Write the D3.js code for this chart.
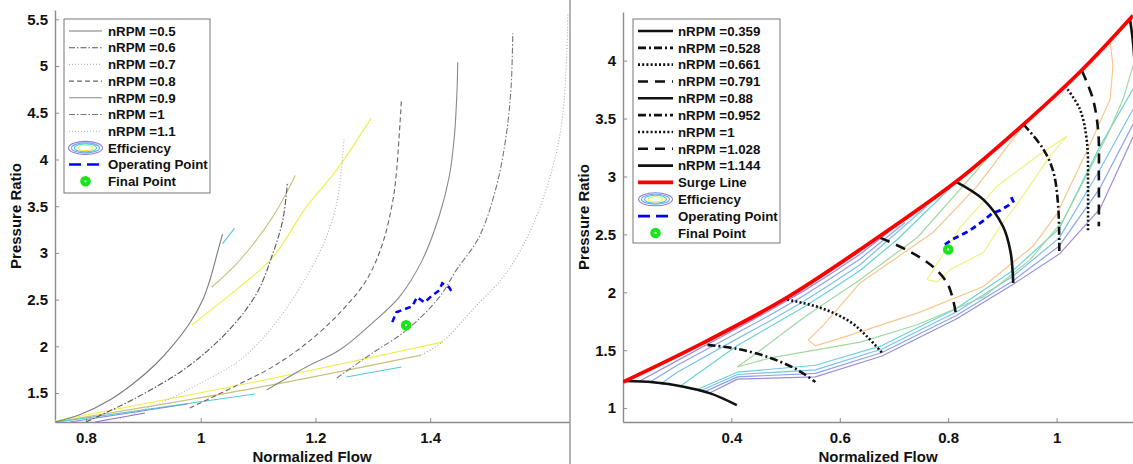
<!DOCTYPE html>
<html>
<head>
<meta charset="utf-8">
<script src="https://cdn.jsdelivr.net/npm/d3@7"></script>
<style>
    body { margin: 0; background: #fff; }
    svg text { font-family: "Liberation Sans", Arial, Helvetica, sans-serif; font-weight: bold; fill: #111; }
</style>
</head>
<body>
<div id="chart"></div>
<script>
// ---------- left map (generic map) ----------
const leftSpeeds = ["0.5", "0.6", "0.7", "0.8", "0.9", "1", "1.1"]
const leftLines = [
    [[0.746, 1.19], [0.79, 1.27], [0.84, 1.42], [0.882, 1.60], [0.92, 1.80], [0.95, 2.0], [0.981, 2.25], [1.003, 2.49], [1.016, 2.71], [1.029, 3.0], [1.038, 3.2]],
    [[0.80, 1.19], [0.89, 1.457], [0.977, 1.78], [1.047, 2.16], [1.097, 2.56], [1.125, 2.98], [1.143, 3.35], [1.151, 3.74]],
    [[0.86, 1.22], [0.95, 1.45], [1.01, 1.64], [1.068, 1.85], [1.125, 2.205], [1.184, 2.74], [1.219, 3.17], [1.237, 3.53], [1.245, 3.88], [1.25, 4.23]],
    [[0.981, 1.34], [1.071, 1.607], [1.125, 1.78], [1.184, 2.03], [1.242, 2.355], [1.289, 2.71], [1.317, 3.10], [1.334, 3.53], [1.341, 3.85], [1.35, 4.65]],
    [[1.115, 1.532], [1.184, 1.778], [1.242, 1.96], [1.299, 2.248], [1.346, 2.526], [1.386, 2.92], [1.416, 3.40], [1.433, 3.81], [1.442, 4.235], [1.447, 4.77], [1.448, 5.04]],
    [[1.237, 1.66], [1.299, 1.927], [1.358, 2.17], [1.416, 2.526], [1.445, 2.81], [1.485, 3.167], [1.515, 3.70], [1.532, 4.235], [1.541, 4.77], [1.544, 5.35]],
    [[1.381, 1.895], [1.421, 2.045], [1.473, 2.387], [1.532, 2.78], [1.577, 3.27], [1.612, 3.88], [1.63, 4.42], [1.638, 5.13], [1.64, 5.57]]
]
// efficiency contour pieces on the left map
const leftEffColors = ["#eeee44", "#c9c27a", "#55c8d0", "#55c8d0", "#7d8fe0", "#8a6fd0", "#eeee44", "#c9c27a", "#55c8d0"]
const leftEff = [
    [[0.746, 1.20], [1.094, 1.618], [1.421, 2.045]],
    [[0.746, 1.19], [1.094, 1.553], [1.384, 1.906]],
    [[0.751, 1.19], [1.094, 1.49]],
    [[1.254, 1.671], [1.35, 1.778]],
    [[0.772, 1.19], [0.977, 1.382]],
    [[0.816, 1.19], [0.903, 1.286]],
    [[0.984, 2.226], [1.068, 2.636], [1.126, 2.956], [1.184, 3.49], [1.236, 3.88], [1.297, 4.44]],
    [[1.019, 2.632], [1.068, 2.921], [1.125, 3.38], [1.165, 3.829]],
    [[1.038, 3.10], [1.059, 3.263]]
]
const leftOp = [[1.334, 2.259], [1.341, 2.365], [1.355, 2.397], [1.369, 2.43], [1.377, 2.526], [1.39, 2.47], [1.402, 2.536], [1.416, 2.60], [1.421, 2.675], [1.433, 2.632], [1.437, 2.59]]
const leftFinal = [1.358, 2.226]
const leftXTicks = [0.8, 1, 1.2, 1.4]
const leftYTicks = [1.5, 2, 2.5, 3, 3.5, 4, 4.5, 5, 5.5]

// ---------- right map (scaled map) ----------
const rightSpeeds = ["0.359", "0.528", "0.661", "0.791", "0.88", "0.952", "1", "1.028", "1.144"]
const rightLines = [
    [[0.203, 1.234], [0.256, 1.223], [0.312, 1.185], [0.361, 1.127], [0.41, 1.026]],
    [[0.356, 1.546], [0.411, 1.511], [0.472, 1.433], [0.522, 1.33], [0.555, 1.225]],
    [[0.503, 1.936], [0.564, 1.867], [0.619, 1.745], [0.651, 1.615], [0.678, 1.477]],
    [[0.675, 2.47], [0.73, 2.35], [0.772, 2.22], [0.798, 2.08], [0.809, 1.936], [0.815, 1.79]],
    [[0.813, 2.958], [0.865, 2.80], [0.901, 2.57], [0.915, 2.35], [0.92, 2.08]],
    [[0.939, 3.45], [0.975, 3.24], [0.994, 3.04], [1.003, 2.74], [1.005, 2.33]],
    [[1.016, 3.78], [1.043, 3.58], [1.056, 3.30], [1.058, 2.92], [1.058, 2.52]],
    [[1.047, 3.91], [1.067, 3.67], [1.077, 3.38], [1.078, 3.0], [1.078, 2.57]],
    [[1.135, 4.37], [1.141, 4.16], [1.146, 3.8]]
]
const surge = [[0.2, 1.225], [0.348, 1.563], [0.496, 1.936], [0.638, 2.37], [0.816, 2.96], [0.939, 3.45], [1.049, 3.93], [1.141, 4.39]]
const rightEffColors = ["#9a8ed8", "#8aa4ea", "#7cbfea", "#6ad2d6", "#a2d8a0", "#f6c88e", "#f3ef80"]
const rightEff = [
    [[0.69, 2.52], [0.638, 2.33], [0.58, 2.15], [0.533, 2.01], [0.47, 1.84], [0.411, 1.69], [0.3, 1.41], [0.23, 1.232], [0.3, 1.195], [0.36, 1.13], [0.411, 1.25], [0.555, 1.27], [0.678, 1.45], [0.815, 1.77], [0.92, 2.07], [1.005, 2.33], [1.08, 2.72], [1.141, 3.34]],
    [[0.72, 2.6], [0.638, 2.29], [0.58, 2.11], [0.533, 1.97], [0.47, 1.80], [0.411, 1.65], [0.3, 1.37], [0.25, 1.225], [0.3, 1.195], [0.35, 1.14], [0.411, 1.27], [0.555, 1.30], [0.678, 1.48], [0.815, 1.80], [0.92, 2.10], [1.005, 2.40], [1.08, 2.90], [1.141, 3.45]],
    [[0.76, 2.74], [0.638, 2.24], [0.58, 2.06], [0.533, 1.92], [0.47, 1.75], [0.411, 1.60], [0.3, 1.31], [0.27, 1.21], [0.3, 1.195], [0.343, 1.15], [0.411, 1.29], [0.555, 1.33], [0.678, 1.51], [0.815, 1.83], [0.92, 2.14], [1.005, 2.47], [1.08, 3.06], [1.141, 3.58]],
    [[0.804, 2.90], [0.706, 2.456], [0.638, 2.19], [0.58, 2.01], [0.533, 1.87], [0.47, 1.70], [0.411, 1.54], [0.306, 1.19], [0.337, 1.16], [0.411, 1.31], [0.555, 1.37], [0.678, 1.54], [0.815, 1.86], [0.92, 2.19], [1.005, 2.55], [1.08, 3.26], [1.141, 3.755]],
    [[0.877, 3.18], [0.743, 2.473], [0.638, 2.11], [0.58, 1.93], [0.533, 1.78], [0.448, 1.48], [0.411, 1.355], [0.472, 1.433], [0.638, 1.57], [0.743, 1.72], [0.865, 1.96], [0.951, 2.28], [1.012, 2.62], [1.093, 3.35], [1.123, 3.67], [1.141, 3.955]],
    [[0.938, 3.435], [0.853, 2.915], [0.772, 2.516], [0.638, 2.083], [0.57, 1.719], [0.542, 1.589], [0.555, 1.537], [0.619, 1.63], [0.743, 1.82], [0.865, 2.05], [0.957, 2.40], [1.001, 2.68], [1.062, 3.28], [1.099, 3.669], [1.104, 3.955], [1.099, 4.163]],
    [[0.761, 2.109], [0.822, 2.56], [0.89, 2.915], [0.964, 3.175], [1.019, 3.348], [0.988, 3.175], [0.933, 2.80], [0.896, 2.568], [0.865, 2.343], [0.804, 2.196], [0.78, 2.09], [0.761, 2.109]]
]
const rightOp = [[0.794, 2.412], [0.807, 2.456], [0.822, 2.49], [0.837, 2.525], [0.853, 2.577], [0.868, 2.629], [0.881, 2.681], [0.896, 2.707], [0.911, 2.75], [0.92, 2.785], [0.914, 2.846]]
const rightFinal = [0.8, 2.37]
const rightXTicks = [0.4, 0.6, 0.8, 1]
const rightYTicks = [1, 1.5, 2, 2.5, 3, 3.5, 4]

// line styles
const leftStroke = ["#7a7a7a", "#555", "#b5b5b5", "#666", "#888", "#777", "#aaa"]
const leftDash = [null, "6,2,1.5,2", "1,2", "5,3", null, "6,2,1.5,2", "1,2"]
const rightDash = [null, "8,3,2,3", "2,2.2", "10,7", null, "8,3,2,3", "2,2.2", "10,7", null]

const width = 1133, height = 464

const svg = d3.select("#chart").append("svg")
    .attr("width", width)
    .attr("height", height)

const lx = d3.scaleLinear().domain([0.746, 1.642]).range([55, 569])
const ly = d3.scaleLinear().domain([1.19, 5.6]).range([422, 10])
const rx = d3.scaleLinear().domain([0.2, 1.141]).range([623, 1133])
const ry = d3.scaleLinear().domain([0.88, 4.42]).range([422, 12])

// panel separator
svg.append("line")
    .attr("x1", 570).attr("x2", 570).attr("y1", 0).attr("y2", height)
    .attr("stroke", "#9a9a9a").attr("stroke-width", 1.5)

const defs = svg.append("defs")
defs.append("clipPath").attr("id", "clipL").append("rect")
    .attr("x", 55).attr("y", 10).attr("width", 514).attr("height", 412)
defs.append("clipPath").attr("id", "clipR").append("rect")
    .attr("x", 623).attr("y", 12).attr("width", 510).attr("height", 410)

function drawAxes(x, y, xTicks, yTicks) {
    var xa = svg.append("g")
        .attr("transform", "translate(0,422)")
        .call(d3.axisBottom(x).tickValues(xTicks).tickFormat(d => String(d))
            .tickSize(-4).tickSizeOuter(0).tickPadding(10))
    var ya = svg.append("g")
        .attr("transform", `translate(${x.range()[0]},0)`)
        .call(d3.axisLeft(y).tickValues(yTicks).tickFormat(d => String(d))
            .tickSize(-4).tickSizeOuter(0).tickPadding(7))
    ;[xa, ya].forEach(g => {
        g.select(".domain").attr("stroke", "#8c8c8c").attr("stroke-width", 1.4)
        g.selectAll(".tick line").attr("stroke", "#8c8c8c")
        g.selectAll(".tick text").attr("font-size", 15).attr("fill", "#111")
    })
    var xm = (x.range()[0] + x.range()[1]) / 2
    svg.append("text").attr("x", xm).attr("y", 462)
        .attr("text-anchor", "middle").attr("font-size", 15).text("Normalized Flow")
    var ym = (y.range()[0] + y.range()[1]) / 2
    svg.append("text")
        .attr("transform", `translate(${x.range()[0] - 34},${ym}) rotate(-90)`)
        .attr("text-anchor", "middle").attr("font-size", 15).text("Pressure Ratio")
}

drawAxes(lx, ly, leftXTicks, leftYTicks)
drawAxes(rx, ry, rightXTicks, rightYTicks)

// ---------- left plot ----------
const gl = svg.append("g").attr("clip-path", "url(#clipL)")
const lineL = d3.line().x(d => lx(d[0])).y(d => ly(d[1])).curve(d3.curveCatmullRom.alpha(0.5))

gl.selectAll(".effL")
    .data(leftEff)
    .join("path")
    .attr("d", lineL)
    .attr("fill", "none")
    .attr("stroke", (d, i) => leftEffColors[i])
    .attr("stroke-width", 1.1)

gl.selectAll(".speedL")
    .data(leftLines)
    .join("path")
    .attr("d", lineL)
    .attr("fill", "none")
    .attr("stroke", (d, i) => leftStroke[i])
    .attr("stroke-width", 1.1)
    .attr("stroke-dasharray", (d, i) => leftDash[i])

gl.append("path")
    .datum(leftOp)
    .attr("d", d3.line().x(d => lx(d[0])).y(d => ly(d[1])))
    .attr("fill", "none")
    .attr("stroke", "#0000ff")
    .attr("stroke-width", 2.5)
    .attr("stroke-dasharray", "6,4")

function finalMarker(g, cx, cy) {
    g.append("circle").attr("cx", cx).attr("cy", cy).attr("r", 3.2)
        .attr("fill", "#fff").attr("stroke", "#19e619").attr("stroke-width", 4.2)
}
finalMarker(gl, lx(leftFinal[0]), ly(leftFinal[1]))

// ---------- right plot ----------
const gr = svg.append("g").attr("clip-path", "url(#clipR)")
const lineR = d3.line().x(d => rx(d[0])).y(d => ry(d[1])).curve(d3.curveCatmullRom.alpha(0.5))
const lineRlin = d3.line().x(d => rx(d[0])).y(d => ry(d[1]))

gr.selectAll(".effR")
    .data(rightEff)
    .join("path")
    .attr("d", lineRlin)
    .attr("fill", "none")
    .attr("stroke", (d, i) => rightEffColors[i])
    .attr("stroke-width", 1.2)
    .attr("stroke-linejoin", "round")

gr.selectAll(".speedR")
    .data(rightLines)
    .join("path")
    .attr("d", lineR)
    .attr("fill", "none")
    .attr("stroke", "#111")
    .attr("stroke-width", 2.6)
    .attr("stroke-dasharray", (d, i) => rightDash[i])

gr.append("path")
    .datum(surge)
    .attr("d", lineR)
    .attr("fill", "none")
    .attr("stroke", "#ff0000")
    .attr("stroke-width", 3.8)

gr.append("path")
    .datum(rightOp)
    .attr("d", d3.line().x(d => rx(d[0])).y(d => ry(d[1])))
    .attr("fill", "none")
    .attr("stroke", "#0000ff")
    .attr("stroke-width", 2.8)
    .attr("stroke-dasharray", "6,4")

finalMarker(gr, rx(rightFinal[0]), ry(rightFinal[1]))

// ---------- legends ----------
function effIcon(g, cx, cy) {
    var rings = [[17, 6.5, "#8a7fd8"], [14, 5, "#7fa0ea"], [11, 4, "#44cfd8"], [7, 2.6, "#eeee44"]]
    rings.forEach(r => {
        g.append("ellipse").attr("cx", cx).attr("cy", cy).attr("rx", r[0]).attr("ry", r[1])
            .attr("fill", "none").attr("stroke", r[2]).attr("stroke-width", 1.1)
    })
}

function legend(box, rows) {
    var g = svg.append("g")
    g.append("rect").attr("x", box.x).attr("y", box.y).attr("width", box.w).attr("height", box.h)
        .attr("fill", "#fff").attr("stroke", "#777").attr("stroke-width", 1)
    rows.forEach((r, i) => {
        var cy = box.y0 + i * box.dy
        if (r.type == "line") {
            g.append("line").attr("x1", box.l1).attr("x2", box.l2).attr("y1", cy).attr("y2", cy)
                .attr("stroke", r.color).attr("stroke-width", r.w).attr("stroke-dasharray", r.dash)
        } else if (r.type == "eff") {
            effIcon(g, (box.l1 + box.l2) / 2, cy)
        } else if (r.type == "final") {
            finalMarker(g, (box.l1 + box.l2) / 2, cy)
        }
        g.append("text").attr("x", box.tx).attr("y", cy + 4.7).attr("font-size", 13.3).text(r.label)
    })
}

var leftRows = leftSpeeds.map((s, i) => ({ type: "line", label: "nRPM =" + s, color: leftStroke[i], w: 1.1, dash: leftDash[i] }))
leftRows.push({ type: "eff", label: "Efficiency" })
leftRows.push({ type: "line", label: "Operating Point", color: "#0000ff", w: 2.5, dash: "12,6" })
leftRows.push({ type: "final", label: "Final Point" })
legend({ x: 64, y: 19, w: 146, h: 174, y0: 31, dy: 16.7, l1: 69, l2: 102, tx: 108 }, leftRows)

var rightRows = rightSpeeds.map((s, i) => ({ type: "line", label: "nRPM =" + s, color: "#111", w: 2.6, dash: rightDash[i] }))
rightRows.push({ type: "line", label: "Surge Line", color: "#ff0000", w: 3.8, dash: null })
rightRows.push({ type: "eff", label: "Efficiency" })
rightRows.push({ type: "line", label: "Operating Point", color: "#0000ff", w: 2.8, dash: "12,6" })
rightRows.push({ type: "final", label: "Final Point" })
legend({ x: 633, y: 19, w: 147, h: 224, y0: 31, dy: 16.83, l1: 638, l2: 673, tx: 678 }, rightRows)
</script>
</body>
</html>
